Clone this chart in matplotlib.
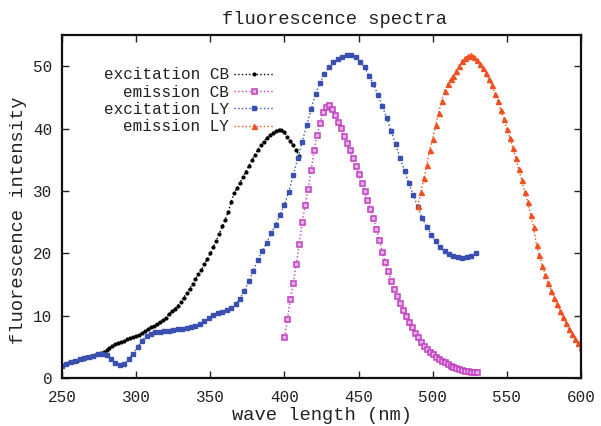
import numpy as np
import matplotlib
matplotlib.use("Agg")
import matplotlib.pyplot as plt

plt.rcParams['font.family'] = ['Liberation Mono', 'DejaVu Sans Mono']

# ---------------- data ----------------
exc_cb_wl = list(range(250, 411, 2))
exc_cb = [2.0, 2.2, 2.4, 2.5, 2.7, 2.8, 3.0, 3.1, 3.3, 3.4,
          3.5, 3.7, 3.8, 4.0, 4.2, 4.5, 4.8, 5.1, 5.4, 5.6,
          5.8, 6.0, 6.2, 6.4, 6.6, 6.7, 6.9, 7.2, 7.5, 7.8,
          8.1, 8.4, 8.7, 9.0, 9.3, 9.7, 10.2, 10.7, 11.1, 11.6,
          12.2, 12.9, 13.6, 14.3, 15.1, 15.9, 16.6, 17.3, 18.2, 19.1,
          20.0, 21.0, 22.0, 23.1, 24.3, 25.4, 26.6, 28.2, 29.6, 30.5,
          31.3, 32.2, 33.1, 34.0, 34.9, 35.8, 36.6, 37.3, 37.9, 38.5,
          38.9, 39.3, 39.6, 39.8, 39.8, 39.4, 38.7, 38.0, 37.3, 36.5,
          35.6]

exc_ly_wl = list(range(250, 530, 3))
exc_ly = [1.9, 2.2, 2.5, 2.8, 3.0, 3.2, 3.4, 3.6, 3.8, 3.9,
          3.7, 3.0, 2.4, 2.1, 2.3, 3.0, 3.9, 5.0, 6.0, 6.8,
          7.1, 7.3, 7.4, 7.5, 7.6, 7.7, 7.8, 7.9, 8.0, 8.2,
          8.4, 8.7, 9.2, 9.7, 10.1, 10.4, 10.6, 10.9, 11.3, 11.8,
          12.7, 14.0, 15.5, 17.2, 19.0, 20.3, 21.7, 23.2, 24.6, 26.1,
          27.8, 29.9, 32.6, 35.2, 37.9, 40.5, 43.1, 45.6, 47.3, 48.8,
          49.9, 50.6, 51.1, 51.5, 51.8, 51.8, 51.4, 50.7, 49.8, 48.5,
          47.1, 45.4, 43.6, 41.7, 39.6, 37.5, 35.3, 33.2, 31.2, 29.3,
          27.4, 25.6, 24.2, 23.0, 21.9, 21.0, 20.3, 19.9, 19.6, 19.4,
          19.3, 19.4, 19.6, 20.0]

em_cb_wl = list(range(400, 531, 2))
em_cb = [6.5, 9.4, 12.6, 15.2, 18.3, 21.5, 25.0, 27.7, 30.3, 33.3,
         36.5, 38.9, 40.9, 42.6, 43.5, 43.7, 43.1, 42.2, 41.1, 40.1,
         38.8, 37.7, 36.5, 35.3, 34.0, 32.7, 31.3, 30.0, 28.6, 27.1,
         25.6, 23.9, 22.2, 20.2, 18.6, 17.1, 15.6, 14.3, 13.1, 12.0,
         10.9, 9.9, 9.0, 8.1, 7.2, 6.5, 5.8, 5.2, 4.7, 4.2,
         3.8, 3.4, 3.1, 2.8, 2.5, 2.2, 2.0, 1.8, 1.6, 1.4,
         1.3, 1.2, 1.1, 1.0, 0.95, 0.9]

em_ly_wl = list(range(490, 601, 2))
em_ly = [27.6, 29.8, 32.0, 34.2, 36.6, 38.4, 40.5, 42.5, 44.4, 46.0,
         47.1, 47.9, 48.5, 49.2, 50.0, 50.8, 51.3, 51.7, 51.8, 51.5,
         51.0, 50.4, 49.7, 48.9, 48.0, 47.0, 45.6, 44.4, 43.0, 41.5,
         40.0, 38.5, 36.9, 35.3, 33.5, 31.7, 29.9, 28.2, 26.2, 24.2,
         21.3, 19.7, 18.0, 16.5, 15.2, 14.0, 12.9, 11.9, 10.8, 9.8,
         8.8, 7.9, 7.0, 6.3, 5.6, 5.0]

labels = ["excitation CB", "emission CB", "excitation LY", "emission LY"]
x_ticks = [250, 300, 350, 400, 450, 500, 550, 600]
y_ticks = [0, 10, 20, 30, 40, 50]

# ---------------- figure ----------------
fig = plt.figure(figsize=(6.01, 4.26), dpi=100)
ax = fig.add_axes([0.1032, 0.1127, 0.8635, 0.8051])

ax.plot(exc_cb_wl, exc_cb, linestyle=':', color='black', lw=1,
        marker='o', ms=2.0, mec='black', mfc='black', label=labels[0])
ax.plot(em_cb_wl, em_cb, linestyle=':', color='#c040c0', lw=1,
        marker='s', ms=3.6, mec='#c040c0', mfc='#e8b0e8', mew=1.1, label=labels[1])
ax.plot(exc_ly_wl, exc_ly, linestyle=':', color='#3a50b0', lw=1,
        marker='s', ms=2.8, mec='#3a50b0', mfc='#3a50b0', label=labels[2])
ax.plot(em_ly_wl, em_ly, linestyle=':', color='#f05022', lw=1,
        marker='^', ms=3.6, mec='#f05022', mfc='#f05022', label=labels[3])

ax.set_xlim(250, 600)
ax.set_ylim(0, 55)
ax.set_xticks(x_ticks)
ax.set_yticks(y_ticks)
ax.tick_params(axis='both', direction='in', length=5, width=1, top=True, right=True,
               labelsize=11.5, colors='#222222')
ax.tick_params(axis='x', pad=9)
ax.tick_params(axis='y', pad=7)
for s in ax.spines.values():
    s.set_linewidth(1.6)
    s.set_color('#111111')

ax.set_title("fluorescence spectra", fontsize=13.5, pad=8, color='#222222', x=0.525)
ax.set_xlabel("wave length (nm)", fontsize=13.5, labelpad=1, color='#222222')
ax.set_ylabel("fluorescence intensity", fontsize=13.5, labelpad=4, color='#222222')
ax.yaxis.set_label_coords(-0.068, 0.46)

leg = ax.legend(loc='upper left', bbox_to_anchor=(0.068, 0.925), frameon=False,
                markerfirst=False, numpoints=1, fontsize=11.5,
                handlelength=2.5, handletextpad=0.3, labelspacing=0.15,
                borderaxespad=0)
for t in leg.get_texts():
    t.set_color('#222222')

fig.savefig("out.png", dpi=100)
